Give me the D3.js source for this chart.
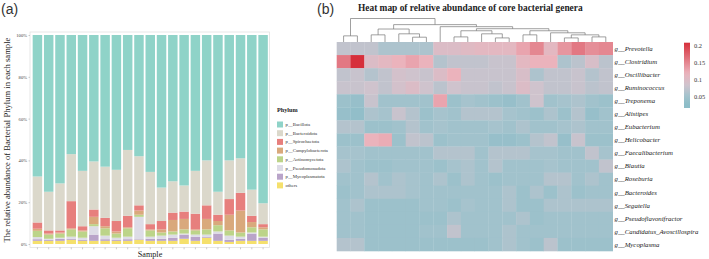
<!DOCTYPE html>
<html><head><meta charset="utf-8">
<script src="https://cdn.jsdelivr.net/npm/d3@7/dist/d3.min.js"></script>
<style>body{margin:0;background:#fff}svg{display:block}</style>
</head><body>
<svg id="c" width="709" height="259"></svg>
<script>
// ---------- Panel (a) data: relative abundance (%) per sample ----------
const samples = ["S1","S2","S3","S4","S5","S6","S7","S8","S9","S10","S11","S12","S13","S14","S15","S16","S17","S18","S19","S20","S21"];
const phyla = ["p__Bacillota","p__Bacteroidota","p__Spirochaetota","p__Campylobacterota","p__Actinomycetota","p__Pseudomonadota","p__Mycoplasmatota","others"];
const phylaColors = ["#8fd3c8","#dbd8cb","#e77f7d","#d9a97c","#bcd489","#dddce6","#b9a4c9","#f5e06c"];
const bacillota        = [67.7,75,71,57,65,60.5,63,64.5,55,58,65.5,73,70,72,65,60,75,60,59,74,80.5];
const bacteroidota     = [22,18.5,22.5,22.5,26.5,23,24.5,24.5,31.5,23.5,25,16,15,12.5,20.5,21.5,11,18.5,16.5,12.5,10];
const spirochaetota    = [3,1.5,1,13,2,3.5,4,5,5.5,2.5,2.5,4,3.5,3.5,7.5,6.5,3,7.5,8.5,3,1.5];
const campylobacterota = [1,0.5,0.5,0.5,0.5,3.5,1,1,0.5,2,0.5,1.5,5.5,5,0.5,5,2,7.5,10.5,2.5,1];
const actinomycetota   = [3,2,2,3.5,3,1,3.5,2,4,1,3,1.5,1.5,2,2,2.5,3,2.5,2,2.5,3.5];
const pseudomonadota   = [1,0.5,0.5,1,1,4,1.7,1,1.2,10.7,1,1.5,1.5,0.5,1,1,1,2,1,0.5,0.5];
const mycoplasmatota   = [0.8,0.5,1,0.5,0.5,3,0.8,0.5,0.8,0.3,1,1,1.5,2,2,0.5,3.5,1,1,3.5,1.5];
const others           = [1.5,1.5,1.5,2,1.5,1.5,1.5,1.5,1.5,2,1.5,1.5,1.5,2.5,1.5,3,1.5,1,1.5,1.5,1.5];
const yTicksA = [0,20,40,60,80,100];

// ---------- Panel (b) data: relative abundance of core genera ----------
const genera = ["Prevotella","Clostridium","Oscillibacter","Ruminococcus","Treponema","Alistipes","Eubacterium","Helicobacter","Faecalibacterium","Blautia","Roseburia","Bacteroides","Segatella","Pseudoflavonifractor","Candidatus_Avoscillospira","Mycoplasma"];
const heatRows = [
  [0.075,0.075,0.075,0.06,0.06,0.06,0.06,0.1,0.1,0.105,0.11,0.11,0.11,0.13,0.15,0.11,0.14,0.16,0.145,0.15],
  [0.16,0.21,0.1,0.11,0.12,0.13,0.12,0.065,0.075,0.075,0.075,0.08,0.08,0.11,0.12,0.12,0.06,0.07,0.095,0.07],
  [0.075,0.08,0.065,0.075,0.09,0.085,0.08,0.1,0.12,0.08,0.08,0.08,0.08,0.095,0.06,0.075,0.075,0.08,0.065,0.075],
  [0.08,0.08,0.085,0.075,0.09,0.1,0.085,0.07,0.085,0.08,0.08,0.075,0.08,0.1,0.085,0.075,0.075,0.08,0.07,0.075],
  [0.045,0.04,0.08,0.05,0.05,0.05,0.05,0.13,0.045,0.055,0.05,0.045,0.04,0.05,0.085,0.05,0.055,0.06,0.05,0.045],
  [0.04,0.035,0.06,0.055,0.08,0.065,0.045,0.055,0.05,0.065,0.065,0.065,0.055,0.05,0.045,0.06,0.045,0.065,0.04,0.05],
  [0.065,0.065,0.045,0.045,0.05,0.065,0.05,0.055,0.05,0.05,0.05,0.055,0.05,0.06,0.05,0.05,0.055,0.06,0.05,0.05],
  [0.045,0.045,0.12,0.125,0.045,0.075,0.07,0.045,0.05,0.05,0.05,0.04,0.04,0.045,0.065,0.075,0.04,0.08,0.045,0.045],
  [0.055,0.055,0.05,0.05,0.05,0.05,0.05,0.065,0.065,0.065,0.05,0.065,0.065,0.065,0.055,0.055,0.05,0.05,0.075,0.055],
  [0.06,0.05,0.045,0.045,0.05,0.05,0.05,0.045,0.055,0.06,0.05,0.065,0.05,0.05,0.05,0.055,0.05,0.05,0.05,0.075],
  [0.05,0.05,0.065,0.05,0.06,0.055,0.05,0.06,0.045,0.06,0.05,0.045,0.05,0.05,0.05,0.065,0.065,0.05,0.06,0.05],
  [0.045,0.05,0.06,0.06,0.06,0.055,0.05,0.05,0.05,0.05,0.05,0.05,0.06,0.045,0.06,0.045,0.06,0.045,0.05,0.05],
  [0.05,0.06,0.045,0.045,0.045,0.045,0.05,0.05,0.045,0.055,0.05,0.05,0.06,0.045,0.045,0.06,0.06,0.06,0.06,0.06],
  [0.05,0.05,0.045,0.045,0.045,0.045,0.045,0.045,0.06,0.05,0.05,0.05,0.05,0.06,0.045,0.05,0.05,0.05,0.05,0.05],
  [0.05,0.05,0.045,0.045,0.045,0.045,0.05,0.05,0.075,0.05,0.05,0.05,0.06,0.05,0.05,0.05,0.05,0.05,0.05,0.05],
  [0.065,0.065,0.045,0.045,0.045,0.045,0.045,0.045,0.045,0.045,0.045,0.05,0.06,0.05,0.045,0.07,0.045,0.045,0.045,0.045]
];
// column dendrogram: leaves are column indexes, h = merge height
const colTree = {h:23, c:[
  {h:6, c:[0,1]},
  {h:17, c:[
    {h:12.7, c:[{h:7,c:[2,3]},{h:8,c:[4,{h:4.7,c:[5,6]}]}]},
    {h:15, c:[7, {h:13, c:[
      {h:11, c:[{h:5,c:[8,9]},{h:8,c:[10,{h:4,c:[11,12]}]}]},
      {h:11, c:[{h:7,c:[13,14]},{h:9,c:[15,{h:7,c:[{h:4,c:[16,17]},{h:5,c:[18,19]}]}]}]}
    ]}]}
  ]}
]};
const legendTicks = [0.05,0.1,0.15,0.2];
const colorStops = [0.03,0.055,0.085,0.12,0.21];
const colorRange = ["#8dbdc8","#a6c3cd","#cfc3cd","#ebb3bc","#d62f3b"];

// ================= drawing =================
const svg = d3.select("#c");
const serif = "'Liberation Serif','DejaVu Serif',serif";
const sans = "'Liberation Sans',Arial,sans-serif";

// ----- panel (a) -----
svg.append("text").attr("x",1).attr("y",14).attr("font-family",sans).attr("font-size",14).attr("fill","#333").text("(a)");
const yA = d3.scaleLinear().domain([0,100]).range([244,35]);
const xA = d3.scaleBand().domain(samples).range([32,268.5]).paddingInner(0.16).paddingOuter(0.06);
svg.append("rect").attr("x",30).attr("y",32).attr("width",239.5).attr("height",215.5)
  .attr("fill","none").attr("stroke","#e2e2e2").attr("stroke-width",0.8);

const seriesVals = {"p__Bacillota":bacillota,"p__Bacteroidota":bacteroidota,"p__Spirochaetota":spirochaetota,
  "p__Campylobacterota":campylobacterota,"p__Actinomycetota":actinomycetota,"p__Pseudomonadota":pseudomonadota,
  "p__Mycoplasmatota":mycoplasmatota,"others":others};
const table = samples.map((s,i)=>{const o={sample:s};phyla.forEach(p=>o[p]=seriesVals[p][i]);return o;});
const stackKeys = phyla.slice().reverse(); // others at bottom
const stacked = d3.stack().keys(stackKeys)(table);
const colorA = d3.scaleOrdinal().domain(phyla).range(phylaColors);
svg.append("g").selectAll("g").data(stacked).join("g").attr("fill",d=>colorA(d.key))
  .selectAll("rect").data(d=>d).join("rect")
  .attr("x",d=>xA(d.data.sample)).attr("width",xA.bandwidth())
  .attr("y",d=>yA(d[1])).attr("height",d=>yA(d[0])-yA(d[1]));

const yAxisA = svg.append("g").attr("transform","translate(30,0)")
  .call(d3.axisLeft(yA).tickValues(yTicksA).tickFormat(d=>d+"%").tickSize(1.5).tickPadding(1.5));
yAxisA.select(".domain").remove();
yAxisA.selectAll("line").attr("stroke","#999").attr("stroke-width",0.5);
yAxisA.selectAll("text").attr("font-family",serif).attr("font-size",4.6).attr("fill","#444");
const xAxisA = svg.append("g").attr("transform","translate(0,247.5)")
  .call(d3.axisBottom(xA).tickSize(1.8).tickFormat(""));
xAxisA.select(".domain").remove();
xAxisA.selectAll("line").attr("stroke","#999").attr("stroke-width",0.5);

svg.append("text").attr("transform","translate(10,140) rotate(-90)").attr("text-anchor","middle")
  .attr("font-family",serif).attr("font-size",8.6).attr("fill","#222")
  .text("The relative abundance of Bacterial Phylum in each sample");
svg.append("text").attr("x",150).attr("y",257).attr("text-anchor","middle")
  .attr("font-family",serif).attr("font-size",8.2).attr("fill","#222").text("Sample");

// legend
svg.append("text").attr("x",277).attr("y",112).attr("font-family",serif).attr("font-weight","bold")
  .attr("font-size",6.2).attr("fill","#222").text("Phylum");
const lg = svg.append("g").selectAll("g").data(phyla).join("g")
  .attr("transform",(d,i)=>`translate(277,${121.5+i*8.7})`);
lg.append("rect").attr("width",6).attr("height",6).attr("fill",d=>colorA(d));
lg.append("text").attr("x",8.5).attr("y",4.6).attr("font-family",serif).attr("font-size",4.8).attr("fill","#333").text(d=>d);

// ----- panel (b) -----
svg.append("text").attr("x",317).attr("y",14).attr("font-family",sans).attr("font-size",14).attr("fill","#333").text("(b)");
svg.append("text").attr("x",358).attr("y",10.5).attr("font-family",serif).attr("font-weight","bold")
  .attr("font-size",9.4).attr("fill","#222").text("Heat map of relative abundance of core bacterial genera");

const cols = d3.range(heatRows[0].length);
const xH = d3.scaleBand().domain(cols).range([336.7,612.7]);
const yH = d3.scaleBand().domain(genera).range([42,251]);
const colorH = d3.scaleLinear().domain(colorStops).range(colorRange).clamp(true);
const cells = [];
heatRows.forEach((row,r)=>row.forEach((v,c)=>cells.push({g:genera[r],c,v})));
svg.append("g").selectAll("rect").data(cells).join("rect")
  .attr("x",d=>xH(d.c)).attr("y",d=>yH(d.g))
  .attr("width",xH.bandwidth()+0.3).attr("height",yH.bandwidth()+0.3)
  .attr("fill",d=>colorH(d.v));

svg.append("g").selectAll("text").data(genera).join("text")
  .attr("x",614.5).attr("y",d=>yH(d)+yH.bandwidth()/2+2.3)
  .attr("font-family",serif).attr("font-style","italic").attr("font-size",6.8).attr("fill","#222")
  .text(d=>"g__"+d);

// dendrogram
const root = d3.hierarchy(colTree, d=>d.c ? d.c.map(x=>typeof x==="number"?{leaf:x}:x) : null);
const yD = d3.scaleLinear().domain([0,23]).range([42,18.5]);
root.eachAfter(n=>{
  if(n.data.leaf!==undefined){ n.px = xH(n.data.leaf)+xH.bandwidth()/2; n.py = yD(0); }
  else { n.px = d3.mean(n.children,c=>c.px); n.py = yD(n.data.h); }
});
const dPath = d3.path();
root.each(n=>{
  if(!n.children) return;
  const a=n.children[0], b=n.children[1];
  dPath.moveTo(a.px,a.py); dPath.lineTo(a.px,n.py); dPath.lineTo(b.px,n.py); dPath.lineTo(b.px,b.py);
});
svg.append("path").attr("d",dPath.toString()).attr("fill","none").attr("stroke","#777").attr("stroke-width",0.7);

// color legend
const yL = d3.scaleLinear().domain([0.05,0.2]).range([97,46]);
const lTop = 42.7, lBot = 108;
const defs = svg.append("defs");
const grad = defs.append("linearGradient").attr("id","lg").attr("x1",0).attr("y1",1).attr("x2",0).attr("y2",0);
d3.range(0,1.0001,0.05).forEach(t=>{
  const v = yL.invert(lBot + (lTop-lBot)*t);
  grad.append("stop").attr("offset",t).attr("stop-color",colorH(v));
});
svg.append("rect").attr("x",684).attr("y",lTop).attr("width",6).attr("height",lBot-lTop).attr("fill","url(#lg)");
svg.append("g").selectAll("text").data(legendTicks).join("text")
  .attr("x",694).attr("y",d=>yL(d)+2.2).attr("font-family",serif).attr("font-size",6.4).attr("fill","#333")
  .text(d=>d);
</script>
</body></html>
